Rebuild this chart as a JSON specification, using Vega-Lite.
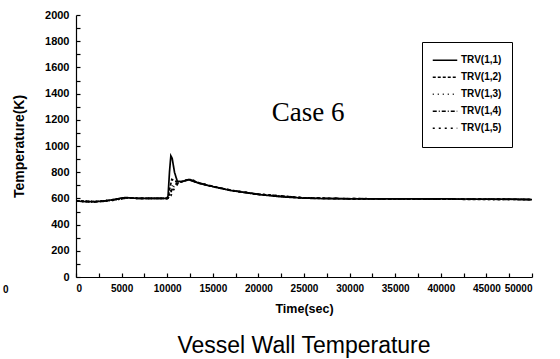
{
  "$schema": "https://vega.github.io/schema/vega-lite/v6.json",
  "autosize": {"type": "none"},
  "width": 456,
  "height": 262,
  "padding": {"left": 76, "top": 15, "right": 28, "bottom": 82},
  "background": "white",
  "config": {
    "view": {"stroke": null},
    "font": "Liberation Sans",
    "axis": {"grid": false, "domainColor": "black", "tickColor": "black", "labelColor": "black", "titleColor": "black", "labelFont": "Liberation Sans", "labelFontWeight": "bold", "labelFontSize": 10, "titleFont": "Liberation Sans", "titleFontWeight": "bold", "titleFontSize": 12.5, "domainWidth": 1.2, "tickWidth": 1.2, "labelOverlap": false}
  },
  "title": {"text": "Vessel Wall Temperature", "orient": "bottom", "fontSize": 23, "fontWeight": "normal", "font": "Liberation Sans", "color": "black", "offset": 20},
  "datasets": {
    "curves": [
      {"t": 0, "s": "TRV(1,1)", "v": 580}, {"t": 1000, "s": "TRV(1,1)", "v": 576}, {"t": 2000, "s": "TRV(1,1)", "v": 575}, {"t": 3000, "s": "TRV(1,1)", "v": 578}, {"t": 4000, "s": "TRV(1,1)", "v": 590}, {"t": 5000, "s": "TRV(1,1)", "v": 603}, {"t": 5500, "s": "TRV(1,1)", "v": 607}, {"t": 6000, "s": "TRV(1,1)", "v": 603}, {"t": 7000, "s": "TRV(1,1)", "v": 600}, {"t": 10000, "s": "TRV(1,1)", "v": 600},
      {"t": 10100, "s": "TRV(1,1)", "v": 625}, {"t": 10250, "s": "TRV(1,1)", "v": 800}, {"t": 10400, "s": "TRV(1,1)", "v": 925}, {"t": 10550, "s": "TRV(1,1)", "v": 905}, {"t": 10800, "s": "TRV(1,1)", "v": 800}, {"t": 11100, "s": "TRV(1,1)", "v": 732}, {"t": 11500, "s": "TRV(1,1)", "v": 728}, {"t": 12000, "s": "TRV(1,1)", "v": 735}, {"t": 12400, "s": "TRV(1,1)", "v": 742}, {"t": 12800, "s": "TRV(1,1)", "v": 732}, {"t": 13500, "s": "TRV(1,1)", "v": 715}, {"t": 15000, "s": "TRV(1,1)", "v": 690}, {"t": 17000, "s": "TRV(1,1)", "v": 660}, {"t": 20000, "s": "TRV(1,1)", "v": 630}, {"t": 22500, "s": "TRV(1,1)", "v": 612}, {"t": 25000, "s": "TRV(1,1)", "v": 602}, {"t": 27500, "s": "TRV(1,1)", "v": 598}, {"t": 30000, "s": "TRV(1,1)", "v": 597}, {"t": 40000, "s": "TRV(1,1)", "v": 596}, {"t": 48000, "s": "TRV(1,1)", "v": 594}, {"t": 50000, "s": "TRV(1,1)", "v": 590},

      {"t": 0, "s": "TRV(1,2)", "v": 580}, {"t": 2000, "s": "TRV(1,2)", "v": 575}, {"t": 4000, "s": "TRV(1,2)", "v": 588}, {"t": 5500, "s": "TRV(1,2)", "v": 605}, {"t": 7000, "s": "TRV(1,2)", "v": 600}, {"t": 10000, "s": "TRV(1,2)", "v": 600}, {"t": 10100, "s": "TRV(1,2)", "v": 605}, {"t": 10300, "s": "TRV(1,2)", "v": 680}, {"t": 10500, "s": "TRV(1,2)", "v": 745}, {"t": 10800, "s": "TRV(1,2)", "v": 735}, {"t": 11200, "s": "TRV(1,2)", "v": 725}, {"t": 11600, "s": "TRV(1,2)", "v": 728}, {"t": 12400, "s": "TRV(1,2)", "v": 745}, {"t": 13500, "s": "TRV(1,2)", "v": 716}, {"t": 15000, "s": "TRV(1,2)", "v": 690}, {"t": 17000, "s": "TRV(1,2)", "v": 660}, {"t": 20000, "s": "TRV(1,2)", "v": 630}, {"t": 25000, "s": "TRV(1,2)", "v": 602}, {"t": 30000, "s": "TRV(1,2)", "v": 597}, {"t": 50000, "s": "TRV(1,2)", "v": 591},

      {"t": 0, "s": "TRV(1,3)", "v": 580}, {"t": 2000, "s": "TRV(1,3)", "v": 575}, {"t": 4000, "s": "TRV(1,3)", "v": 587}, {"t": 5500, "s": "TRV(1,3)", "v": 604}, {"t": 7000, "s": "TRV(1,3)", "v": 600}, {"t": 10000, "s": "TRV(1,3)", "v": 600}, {"t": 10100, "s": "TRV(1,3)", "v": 602}, {"t": 10300, "s": "TRV(1,3)", "v": 650}, {"t": 10600, "s": "TRV(1,3)", "v": 700}, {"t": 11000, "s": "TRV(1,3)", "v": 720}, {"t": 11500, "s": "TRV(1,3)", "v": 728}, {"t": 12400, "s": "TRV(1,3)", "v": 746}, {"t": 13500, "s": "TRV(1,3)", "v": 717}, {"t": 15000, "s": "TRV(1,3)", "v": 691}, {"t": 17000, "s": "TRV(1,3)", "v": 661}, {"t": 20000, "s": "TRV(1,3)", "v": 631}, {"t": 25000, "s": "TRV(1,3)", "v": 603}, {"t": 30000, "s": "TRV(1,3)", "v": 597}, {"t": 50000, "s": "TRV(1,3)", "v": 592},

      {"t": 0, "s": "TRV(1,4)", "v": 580}, {"t": 2000, "s": "TRV(1,4)", "v": 574}, {"t": 4000, "s": "TRV(1,4)", "v": 586}, {"t": 5500, "s": "TRV(1,4)", "v": 603}, {"t": 7000, "s": "TRV(1,4)", "v": 600}, {"t": 10000, "s": "TRV(1,4)", "v": 600}, {"t": 10100, "s": "TRV(1,4)", "v": 601}, {"t": 10300, "s": "TRV(1,4)", "v": 630}, {"t": 10600, "s": "TRV(1,4)", "v": 680}, {"t": 11000, "s": "TRV(1,4)", "v": 712}, {"t": 11600, "s": "TRV(1,4)", "v": 728}, {"t": 12400, "s": "TRV(1,4)", "v": 747}, {"t": 13500, "s": "TRV(1,4)", "v": 718}, {"t": 15000, "s": "TRV(1,4)", "v": 692}, {"t": 17000, "s": "TRV(1,4)", "v": 662}, {"t": 20000, "s": "TRV(1,4)", "v": 632}, {"t": 25000, "s": "TRV(1,4)", "v": 604}, {"t": 30000, "s": "TRV(1,4)", "v": 598}, {"t": 50000, "s": "TRV(1,4)", "v": 592},

      {"t": 0, "s": "TRV(1,5)", "v": 580}, {"t": 2000, "s": "TRV(1,5)", "v": 574}, {"t": 4000, "s": "TRV(1,5)", "v": 585}, {"t": 5500, "s": "TRV(1,5)", "v": 602}, {"t": 7000, "s": "TRV(1,5)", "v": 600}, {"t": 10000, "s": "TRV(1,5)", "v": 600}, {"t": 10100, "s": "TRV(1,5)", "v": 600}, {"t": 10400, "s": "TRV(1,5)", "v": 620}, {"t": 10700, "s": "TRV(1,5)", "v": 665}, {"t": 11100, "s": "TRV(1,5)", "v": 705}, {"t": 11600, "s": "TRV(1,5)", "v": 727}, {"t": 12500, "s": "TRV(1,5)", "v": 748}, {"t": 13500, "s": "TRV(1,5)", "v": 719}, {"t": 15000, "s": "TRV(1,5)", "v": 693}, {"t": 17000, "s": "TRV(1,5)", "v": 663}, {"t": 20000, "s": "TRV(1,5)", "v": 633}, {"t": 25000, "s": "TRV(1,5)", "v": 605}, {"t": 30000, "s": "TRV(1,5)", "v": 598}, {"t": 50000, "s": "TRV(1,5)", "v": 593}
    ],
    "notes": [
      {"t": 25440, "v": 1191, "label": "Case 6", "kind": "case"},
      {"t": -7700, "v": -100, "label": "0", "kind": "stray"}
    ]
  },
  "encoding": {
    "x": {"field": "t", "type": "quantitative", "scale": {"domain": [0, 50000], "nice": false},
          "axis": {"title": "Time(sec)", "values": [0,2500,5000,7500,10000,12500,15000,17500,20000,22500,25000,27500,30000,32500,35000,37500,40000,42500,45000,47500,50000], "labelExpr": "datum.value % 5000 == 0 ? datum.label : ''", "format": "d", "tickSize": -4, "labelPadding": 10, "titlePadding": 9, "labelOverlap": false}},
    "y": {"field": "v", "type": "quantitative", "scale": {"domain": [0, 2000], "nice": false},
          "axis": {"title": "Temperature(K)", "titleFontSize": 14, "labelFontSize": 11, "values": [0,100,200,300,400,500,600,700,800,900,1000,1100,1200,1300,1400,1500,1600,1700,1800,1900,2000], "labelExpr": "datum.value % 200 == 0 ? datum.label : ''", "format": "d", "tickSize": -4, "labelPadding": 11, "titlePadding": 18, "labelOverlap": false}}
  },
  "layer": [
    {
      "data": {"name": "curves"},
      "mark": {"type": "line", "color": "black", "strokeWidth": 1.7},
      "encoding": {
        "strokeDash": {"field": "s", "type": "nominal",
          "scale": {"domain": ["TRV(1,1)", "TRV(1,2)", "TRV(1,3)", "TRV(1,4)", "TRV(1,5)"], "range": [[1,0],[3,2],[1,4],[4,2,1,2],[2,4]]},
          "legend": {"title": null, "orient": "none", "legendX": 346, "legendY": 27, "padding": 10, "strokeColor": "black", "fillColor": "white", "symbolType": "stroke", "symbolSize": 600, "symbolStrokeColor": "black", "symbolStrokeWidth": 1.5, "labelFont": "Liberation Sans", "labelFontWeight": "bold", "labelFontSize": 10, "labelColor": "black", "labelOffset": 3, "rowPadding": 0, "clipHeight": 16.5}}
      }
    },
    {
      "data": {"name": "notes"},
      "transform": [{"filter": "datum.kind == 'case'"}],
      "mark": {"type": "text", "font": "Liberation Serif", "fontSize": 27, "color": "black", "baseline": "alphabetic"},
      "encoding": {"text": {"field": "label"}}
    },
    {
      "data": {"name": "notes"},
      "transform": [{"filter": "datum.kind == 'stray'"}],
      "mark": {"type": "text", "font": "Liberation Sans", "fontWeight": "bold", "fontSize": 10, "color": "black"},
      "encoding": {"text": {"field": "label"}}
    }
  ]
}
